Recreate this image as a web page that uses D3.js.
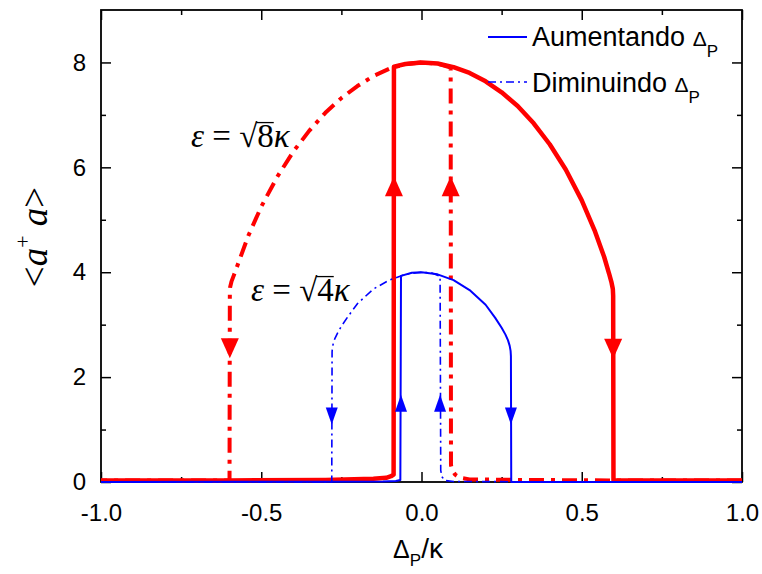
<!doctype html>
<html>
<head>
<meta charset="utf-8">
<title>Aumentando / Diminuindo</title>
<script src="https://cdnjs.cloudflare.com/ajax/libs/d3/7.8.5/d3.min.js"></script>
<style>
  body { margin: 0; background: #fff; }
  text { font-family: "Liberation Sans", Arial, sans-serif; fill: #000; }
  .serif { font-family: "Liberation Serif", "Times New Roman", serif; }
</style>
</head>
<body>
<div id="chart"></div>
<script>
// values
// eps = sqrt(8) kappa, increasing Delta_P (solid)
const redIncX = [-1.0, -0.6, -0.3, -0.15, -0.11, -0.095, -0.087, -0.086, -0.05, 0.0, 0.05, 0.10, 0.15, 0.20, 0.25, 0.30, 0.35, 0.40, 0.45, 0.50, 0.54, 0.57, 0.585, 0.593, 0.597, 0.598, 0.599, 0.65, 1.0];
const redIncY = [0.03, 0.03, 0.04, 0.06, 0.08, 0.11, 0.14, 7.92, 7.97, 8.0, 7.98, 7.91, 7.80, 7.64, 7.43, 7.17, 6.84, 6.44, 5.96, 5.37, 4.80, 4.29, 3.98, 3.80, 3.68, 3.55, 0.03, 0.03, 0.03];
// eps = sqrt(8) kappa, decreasing Delta_P (dash-dot)
const redDecX = [1.0, 0.6, 0.3, 0.15, 0.12, 0.105, 0.097, 0.092, 0.091, 0.05, 0.0, -0.05, -0.10, -0.15, -0.20, -0.25, -0.30, -0.35, -0.40, -0.45, -0.50, -0.54, -0.57, -0.585, -0.593, -0.597, -0.598, -0.599, -1.0];
const redDecY = [0.03, 0.03, 0.04, 0.05, 0.08, 0.14, 0.22, 0.32, 7.9, 7.98, 8.0, 7.97, 7.88, 7.74, 7.55, 7.32, 7.04, 6.7, 6.3, 5.82, 5.25, 4.7, 4.2, 3.95, 3.82, 3.72, 3.6, 0.03, 0.03];
// eps = sqrt(4) kappa, increasing (solid)
const blueIncX = [-1.0, -0.3, -0.12, -0.08, -0.066, -0.064, -0.03, 0.0, 0.05, 0.10, 0.15, 0.20, 0.23, 0.25, 0.262, 0.27, 0.275, 0.278, 0.279, 0.28, 0.4, 1.0];
const blueIncY = [0.0, 0.005, 0.01, 0.02, 0.04, 3.93, 3.99, 4.0, 3.96, 3.85, 3.66, 3.38, 3.13, 2.94, 2.81, 2.7, 2.6, 2.5, 2.4, 0.0, 0.0, 0.0];
// eps = sqrt(4) kappa, decreasing (dash-dot)
const blueDecX = [1.0, 0.3, 0.1, 0.072, 0.064, 0.06, 0.058, 0.03, 0.0, -0.05, -0.10, -0.15, -0.20, -0.23, -0.25, -0.262, -0.27, -0.275, -0.278, -0.279, -0.28, -0.4, -1.0];
const blueDecY = [0.0, 0.005, 0.01, 0.03, 0.1, 0.22, 3.92, 3.99, 4.0, 3.96, 3.85, 3.68, 3.4, 3.15, 2.97, 2.84, 2.74, 2.65, 2.56, 2.48, 0.0, 0.0, 0.0];

// arrow heads (x, centre y, direction)
const redArrowX = [-0.086, 0.091, -0.598, 0.598];
const redArrowY = [5.64, 5.64, 2.55, 2.54];
const redArrowDir = [1, 1, -1, -1];
const blueArrowX = [-0.064, 0.058, -0.28, 0.279];
const blueArrowY = [1.5, 1.5, 1.26, 1.26];
const blueArrowDir = [1, 1, -1, -1];

const xMajor = [-1.0, -0.5, 0.0, 0.5, 1.0];
const xMinor = [-0.75, -0.25, 0.25, 0.75];
const yMajor = [0, 2, 4, 6, 8];
const yMinor = [1, 3, 5, 7];

const W = 762, H = 574;
const x = d3.scaleLinear().domain([-1, 1]).range([101, 742]);
const y = d3.scaleLinear().domain([0, 9]).range([482, 10]);

const svg = d3.select('#chart').append('svg')
  .attr('width', W).attr('height', H);

// ticks (inward, all four sides)
function ticks(axis, vals, len, tx, fmt, pad) {
  const g = svg.append('g').attr('transform', tx)
    .call(axis.tickValues(vals).tickSize(-len).tickSizeOuter(0).tickPadding(pad).tickFormat(fmt));
  g.select('.domain').remove();
  g.selectAll('line').attr('stroke', '#000').attr('stroke-width', 1.5);
  g.selectAll('text').style('font-size', '24px').attr('font-family', null);
  return g;
}
const f1 = d => d3.format('.1f')(d).replace('−', '-');
ticks(d3.axisBottom(x), xMajor, 10, 'translate(0,482)', f1, 22);
ticks(d3.axisBottom(x), xMinor, 5, 'translate(0,482)', '', 22);
ticks(d3.axisTop(x), xMajor, 10, 'translate(0,10)', '', 0);
ticks(d3.axisTop(x), xMinor, 5, 'translate(0,10)', '', 0);
ticks(d3.axisLeft(y), yMajor, 10, 'translate(101,0)', d3.format('d'), 15);
ticks(d3.axisLeft(y), yMinor, 5, 'translate(101,0)', '', 15);
ticks(d3.axisRight(y), yMajor, 10, 'translate(742,0)', '', 0);
ticks(d3.axisRight(y), yMinor, 5, 'translate(742,0)', '', 0);

svg.append('rect')
  .attr('x', x(-1)).attr('y', y(9))
  .attr('width', x(1) - x(-1)).attr('height', y(0) - y(9))
  .attr('fill', 'none').attr('stroke', '#000').attr('stroke-width', 1.8);

const line = d3.line().x(d => x(d[0])).y(d => y(d[1]));
const pts = (xs, ys) => xs.map((v, i) => [v, ys[i]]);

function curve(xs, ys, color, width, dash) {
  svg.append('path')
    .attr('d', line(pts(xs, ys)))
    .attr('fill', 'none')
    .attr('stroke', color)
    .attr('stroke-width', width)
    .attr('stroke-linejoin', 'round')
    .attr('stroke-dasharray', dash);
}
curve(redDecX, redDecY, '#ff0000', 4, '15,7,4,7');
curve(redIncX, redIncY, '#ff0000', 4.5, null);
curve(blueDecX, blueDecY, '#0000ff', 1.6, '8,4,2,4');
curve(blueIncX, blueIncY, '#0000ff', 2, null);

function arrows(xs, ys, dirs, color, w, h) {
  svg.selectAll(null).data(xs).join('path')
    .attr('d', (d, i) => {
      const cx = x(d), cy = y(ys[i]), s = dirs[i];
      return `M${cx},${cy - s * h / 2}L${cx - w / 2},${cy + s * h / 2}L${cx + w / 2},${cy + s * h / 2}Z`;
    })
    .attr('fill', color);
}
arrows(redArrowX, redArrowY, redArrowDir, '#ff0000', 18, 20);
arrows(blueArrowX, blueArrowY, blueArrowDir, '#0000ff', 12, 17);

// legend
svg.append('line').attr('x1', 488).attr('x2', 527).attr('y1', 37).attr('y2', 37)
  .attr('stroke', '#0000ff').attr('stroke-width', 2);
svg.append('line').attr('x1', 488).attr('x2', 527).attr('y1', 82).attr('y2', 82)
  .attr('stroke', '#0000ff').attr('stroke-width', 1.6).attr('stroke-dasharray', '8,4,2,4');

function deltaLabel(tx, ty, word) {
  const t = svg.append('text').attr('x', tx).attr('y', ty).style('font-size', '27px');
  t.append('tspan').text(word + ' ');
  t.append('tspan').style('font-size', '21px').text('Δ');
  t.append('tspan').style('font-size', '17px').attr('dy', 11).text('P');
}
deltaLabel(532, 46, 'Aumentando');
deltaLabel(532, 92, 'Diminuindo');

// x label
const xl = svg.append('text').attr('x', 418).attr('y', 558)
  .attr('text-anchor', 'middle').style('font-size', '28px');
xl.append('tspan').style('font-size', '25px').text('Δ');
xl.append('tspan').style('font-size', '17px').attr('dy', 8).text('P');
xl.append('tspan').attr('dy', -8).text('/κ');

// y label
const yl = svg.append('text').attr('class', 'serif')
  .attr('transform', 'translate(47,237) rotate(-90)')
  .attr('text-anchor', 'middle').style('font-size', '37px');
yl.append('tspan').text('<');
yl.append('tspan').style('font-style', 'italic').text('a');
yl.append('tspan').style('font-size', '22px').attr('dy', -17).text('+');
yl.append('tspan').style('font-style', 'italic').attr('dy', 17).text(' a');
yl.append('tspan').text('>');

// annotations eps = sqrt(n) kappa
function epsLabel(tx, ty, n, fs) {
  const t = svg.append('text').attr('class', 'serif')
    .attr('x', tx).attr('y', ty).style('font-size', fs + 'px');
  t.append('tspan').style('font-style', 'italic').text('ε');
  t.append('tspan').text(' = √');
  t.append('tspan').text(n);
  t.append('tspan').style('font-style', 'italic').text('κ');
  const b = t.node().getExtentOfChar(5);
  svg.append('line')
    .attr('x1', b.x - 1).attr('x2', b.x + b.width)
    .attr('y1', ty - fs * 0.74).attr('y2', ty - fs * 0.74)
    .attr('stroke', '#000').attr('stroke-width', 1.3);
}
epsLabel(191, 147, '8', 33);
epsLabel(251, 301, '4', 33);
</script>
</body>
</html>
